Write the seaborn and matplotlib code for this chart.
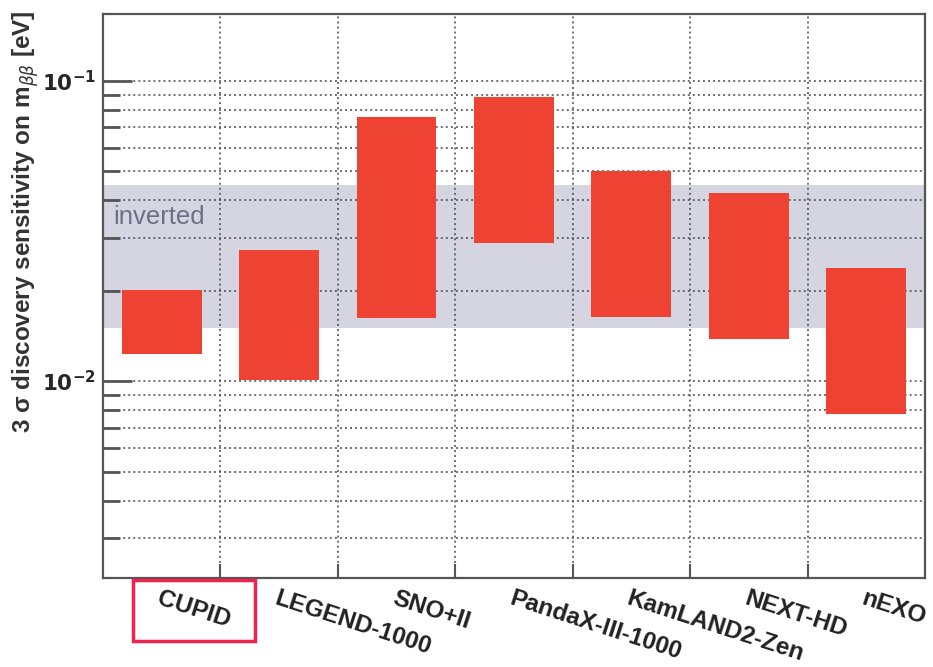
import numpy as np
import pandas as pd
import matplotlib
matplotlib.use("Agg")
import matplotlib.pyplot as plt
from matplotlib.patches import Rectangle
from matplotlib.ticker import FixedLocator, NullFormatter
import seaborn as sns

# Experiments and their 3-sigma discovery sensitivity ranges on m_bb [eV]
experiments = ["CUPID", "LEGEND-1000", "SNO+II", "PandaX-III-1000",
               "KamLAND2-Zen", "NEXT-HD", "nEXO"]
sens_low = [0.0123, 0.0101, 0.01625, 0.0288, 0.0164, 0.0138, 0.0078]
sens_high = [0.0201, 0.0273, 0.0757, 0.0883, 0.0502, 0.0422, 0.0239]

# Inverted-ordering band
inverted_low, inverted_high = 0.0150, 0.0450

y_min, y_max = 0.00222, 0.167
y_major = [0.01, 0.1]
y_major_labels = [r"$\mathbf{10^{-2}}$", r"$\mathbf{10^{-1}}$"]

sns.set_style("ticks")
plt.rcParams["font.family"] = ["Liberation Sans", "DejaVu Sans"]

df = pd.DataFrame({
    "experiment": experiments,
    "low": sens_low,
    "span": np.array(sens_high) - np.array(sens_low),
})

fig = plt.figure(figsize=(9.33, 6.67), dpi=100)
ax = fig.add_axes([0.1104, 0.134, 0.9914 - 0.1104, 0.979 - 0.134])
ax.set_yscale("log")
ax.set_axisbelow(True)

ax.axhspan(inverted_low, inverted_high, color="#d5d4e1", zorder=0.2, lw=0)

sns.barplot(data=df, x="experiment", y="span", bottom=df["low"].values,
            color="#ee4232", width=0.68, errorbar=None, ax=ax,
            saturation=1, linewidth=0, zorder=2)

ax.set_ylim(y_min, y_max)
ax.set_xlim(-0.5, len(experiments) - 0.5)

grid_kw = dict(color="#4a4a4a", linestyle=(0, (1.3, 2.0)), linewidth=1.1)
ax.yaxis.set_major_locator(FixedLocator(y_major))
ax.set_yticklabels(y_major_labels)
minor_y = [m * d for d in (0.001, 0.01) for m in range(2, 10)]
ax.yaxis.set_minor_locator(FixedLocator(minor_y))
ax.yaxis.set_minor_formatter(NullFormatter())
ax.grid(True, which="both", axis="y", **grid_kw)

# category boundaries carry the vertical grid and the x ticks
ax.xaxis.set_minor_locator(FixedLocator(np.arange(0.5, len(experiments) - 0.5, 1.0)))
ax.grid(True, which="minor", axis="x", **grid_kw)
ax.grid(False, which="major", axis="x")

ax.tick_params(axis="y", which="major", direction="in", length=21, width=2,
               color="#555555", labelsize=15.5, pad=5)
ax.tick_params(axis="y", which="minor", direction="in", length=12, width=2,
               color="#555555")
ax.tick_params(axis="x", which="major", length=0, labelsize=17.5, pad=7)
ax.tick_params(axis="x", which="minor", direction="in", length=10, width=1.5,
               color="#555555")
for lab in ax.get_xticklabels():
    lab.set_rotation(-18)
    lab.set_ha("left")
    lab.set_va("top")
    lab.set_rotation_mode("anchor")
    lab.set_fontweight("bold")
    lab.set_color("#222222")

ax.set_xlabel("")
ax.set_ylabel("")
for sp in ax.spines.values():
    sp.set_color("#555555")
    sp.set_linewidth(1.6)

ax.text(0.012, 0.0351, "inverted", color="#6b7088", fontsize=18.5,
        transform=ax.get_yaxis_transform(), va="center", ha="left", zorder=3)

fig.text(26 / 933, 1 - 10 / 667,
         "3 σ discovery sensitivity on m$_{\\beta\\beta}$ [eV]",
         rotation=90, ha="center", va="top", fontsize=17.5,
         fontweight="bold", color="#333333")

# highlight box around the first experiment label
fig.add_artist(Rectangle((133 / 933, 1 - 641 / 667), 122 / 933, 61 / 667,
                         transform=fig.transFigure, fill=False,
                         edgecolor="#f0234f", linewidth=2.5))

fig.savefig("out.png", dpi=100)
